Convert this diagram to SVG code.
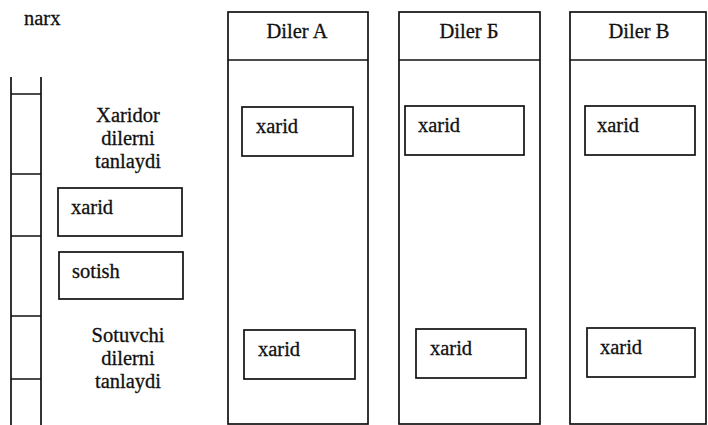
<svg xmlns="http://www.w3.org/2000/svg" width="708" height="425" viewBox="0 0 708 425" font-family="'Liberation Serif', 'DejaVu Serif', serif" font-size="20.5">
<style>
.ln{fill:none;stroke:#111;stroke-width:1.7}
.bx{fill:#fff;stroke:#111;stroke-width:1.7}
text{fill:#111;stroke:#111;stroke-width:0.3}
.c{text-anchor:middle}
</style>
<rect width="708" height="425" fill="#fff"/>
<g id="scale">
<text x="24" y="25">narx</text>
<path class="ln" d="M11 77V425M41 77V425M11 94H41M11 174H41M11 236H41M11 316H41M11 379H41"/>
</g>
<g id="buyer-label">
<text class="c" x="128" y="122">Xaridor</text>
<text class="c" x="128" y="145">dilerni</text>
<text class="c" x="128" y="168">tanlaydi</text>
</g>
<g id="seller-label">
<text class="c" x="128" y="342">Sotuvchi</text>
<text class="c" x="128" y="365">dilerni</text>
<text class="c" x="128" y="388">tanlaydi</text>
</g>
<g id="left-xarid"><rect class="bx" x="58" y="188" width="124" height="48"/><text x="71" y="214">xarid</text></g>
<g id="left-sotish"><rect class="bx" x="59" y="252" width="124" height="47"/><text x="72" y="278">sotish</text></g>
<g id="dilerA">
<rect class="bx" x="228" y="12" width="140" height="412"/>
<path class="ln" d="M228 60H368"/>
<text class="c" x="297" y="38">Diler A</text>
</g>
<g id="dilerB">
<rect class="bx" x="399" y="12" width="141" height="412"/>
<path class="ln" d="M399 60H540"/>
<text class="c" x="469" y="38">Diler Б</text>
</g>
<g id="dilerV">
<rect class="bx" x="570" y="12" width="136" height="412"/>
<path class="ln" d="M570 60H706"/>
<text class="c" x="639" y="38">Diler B</text>
</g>
<g id="A-top"><rect class="bx" x="242" y="107" width="111" height="49"/><text x="256" y="133">xarid</text></g>
<g id="B-top"><rect class="bx" x="405" y="106" width="119" height="49"/><text x="418" y="132">xarid</text></g>
<g id="V-top"><rect class="bx" x="585" y="106" width="110" height="49"/><text x="597" y="132">xarid</text></g>
<g id="A-bot"><rect class="bx" x="244" y="330" width="111" height="49"/><text x="258" y="356">xarid</text></g>
<g id="B-bot"><rect class="bx" x="416" y="329" width="110" height="49"/><text x="430" y="355">xarid</text></g>
<g id="V-bot"><rect class="bx" x="587" y="328" width="108" height="49"/><text x="600" y="354">xarid</text></g>
<g id="connectors"/>
</svg>
